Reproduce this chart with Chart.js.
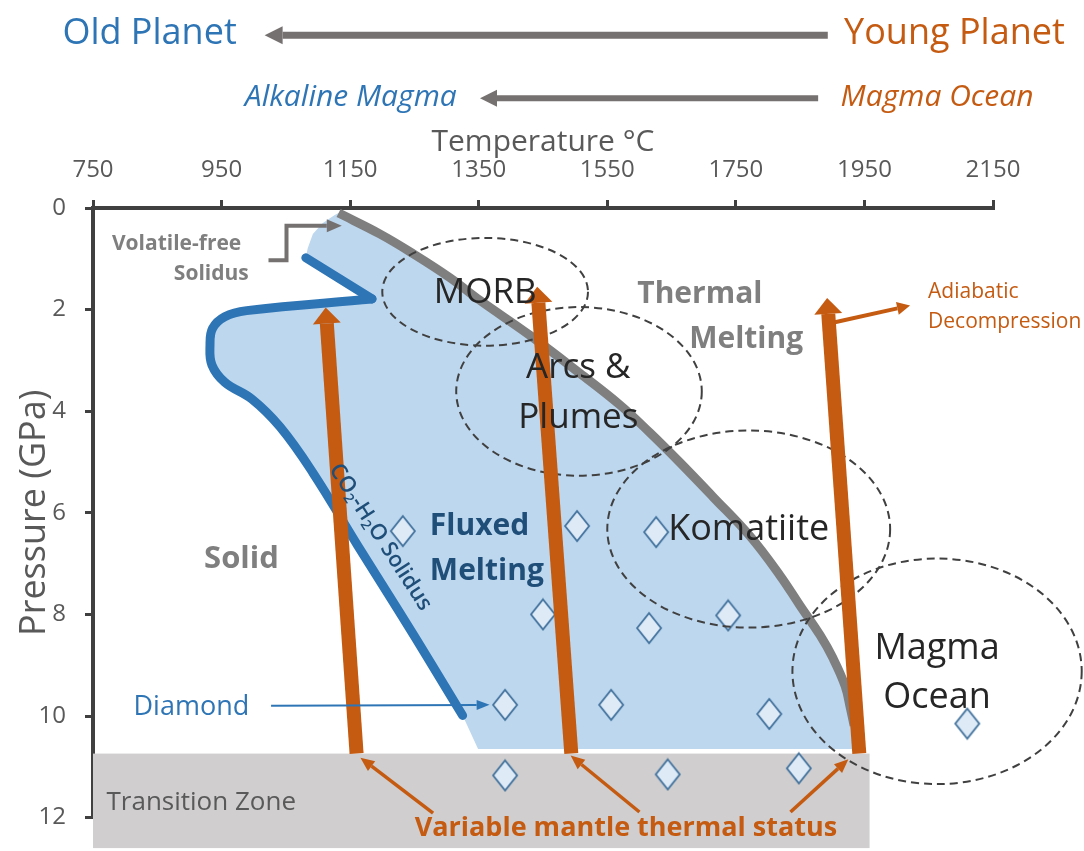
<!DOCTYPE html>
<html>
<head>
<meta charset="utf-8">
<title>Mantle melting regimes</title>
<script src="https://cdn.jsdelivr.net/npm/chart.js@4.4.1/dist/chart.umd.min.js"></script>
<style>
  html, body { margin: 0; padding: 0; background: #fff; }
  canvas { display: block; }
</style>
</head>
<body>
<canvas id="myChart" width="1084" height="851"></canvas>
<script>
const tempTicks = [750, 950, 1150, 1350, 1550, 1750, 1950, 2150];
const pressureTicks = [0, 2, 4, 6, 8, 10, 12];

// volatile-free solidus
const dryT = [1132, 1196, 1248, 1305, 1352, 1430, 1507, 1570, 1616, 1663, 1714, 1772, 1819, 1850, 1881, 1901, 1920, 1928, 1934];
const dryP = [0.10, 0.51, 0.90, 1.37, 1.82, 2.51, 3.25, 3.88, 4.42, 5.01, 5.68, 6.46, 7.24, 7.83, 8.41, 8.86, 9.41, 9.84, 10.19];

// CO2-H2O solidus : short upper limb, then main branch
const limbT = [1081, 1184];
const limbP = [0.98, 1.79];
const fluxT = [1184, 989, 955, 936, 932, 935, 955, 997, 1041, 1092, 1162, 1226, 1277, 1325];
const fluxP = [1.79, 2.02, 2.14, 2.37, 2.70, 3.09, 3.43, 3.76, 4.31, 5.21, 6.65, 7.94, 8.99, 9.99];

// rim of the melting field above the limb, and its flat base
const rimT = [1084, 1092, 1107, 1126];
const rimP = [0.79, 0.51, 0.30, 0.14];
const baseT = [1939, 1349];
const baseP = [10.65, 10.65];

// diamond samples
const sampleT = [1232, 1503, 1626, 1450, 1615, 1738, 1391, 1556, 1802, 2110, 1391, 1644, 1848];
const sampleP = [6.36, 6.26, 6.38, 8.00, 8.27, 8.02, 9.78, 9.78, 9.96, 10.15, 11.17, 11.15, 11.03];

// transition zone
const zoneT = [750, 1958];
const zoneP = [10.74, 12.6];

// mantle adiabats (base -> top)
const adiabatBaseT = [1160, 1494, 1942];
const adiabatBaseP = [10.74, 10.74, 10.74];
const adiabatTopT = [1112, 1441, 1892];
const adiabatTopP = [1.96, 1.55, 1.77];

// melt source fields (dashed ellipses)
const fieldNames = ['MORB', 'Arcs & Plumes', 'Komatiite', 'Magma Ocean'];
const fieldT = [1360, 1506, 1770, 2063];
const fieldP = [1.65, 3.61, 6.32, 9.12];
const fieldRadT = [160, 191, 220, 225];
const fieldRadP = [1.06, 1.66, 1.94, 2.22];

const BLUE = '#2e75b6', DARKBLUE = '#1f4e79', ORANGE = '#c55a11', GREY = '#7f7f7f', ARROWGREY = '#767171';
const F = '"Open Sans", sans-serif';

const notes = [
  {text: 'Old Planet', t: 838, p: -3.43, font: '36px ' + F, color: BLUE},
  {text: 'Young Planet', t: 2090, p: -3.43, font: '36px ' + F, color: ORANGE},
  {text: 'Alkaline Magma', t: 1151, p: -2.18, font: 'italic 30px ' + F, color: BLUE},
  {text: 'Magma Ocean', t: 2063, p: -2.18, font: 'italic 30px ' + F, color: ORANGE},
  {text: 'Volatile-free', t: 880, p: 0.70, font: 'bold 21px ' + F, color: GREY},
  {text: 'Solidus', t: 934, p: 1.29, font: 'bold 21px ' + F, color: GREY},
  {text: 'MORB', t: 1360, p: 1.68, font: '35px ' + F, color: '#262626'},
  {text: 'Arcs &', t: 1505, p: 3.16, font: '35px ' + F, color: '#262626'},
  {text: 'Plumes', t: 1505, p: 4.14, font: '35px ' + F, color: '#262626'},
  {text: 'Komatiite', t: 1770, p: 6.33, font: '36px ' + F, color: '#262626'},
  {text: 'Magma', t: 2063, p: 8.67, font: '36px ' + F, color: '#262626'},
  {text: 'Ocean', t: 2063, p: 9.64, font: '36px ' + F, color: '#262626'},
  {text: 'Thermal', t: 1694, p: 1.71, font: 'bold 30px ' + F, color: GREY},
  {text: 'Melting', t: 1766, p: 2.59, font: 'bold 30px ' + F, color: GREY},
  {text: 'Solid', t: 981, p: 6.91, font: 'bold 31px ' + F, color: GREY},
  {text: 'Fluxed', t: 1274, p: 6.27, font: 'bold 30px ' + F, color: DARKBLUE, align: 'left'},
  {text: 'Melting', t: 1274, p: 7.15, font: 'bold 30px ' + F, color: DARKBLUE, align: 'left'},
  {text: 'Adiabatic', t: 2049, p: 1.66, font: '21px ' + F, color: ORANGE, align: 'left'},
  {text: 'Decompression', t: 2049, p: 2.24, font: '21px ' + F, color: ORANGE, align: 'left'},
  {text: 'Diamond', t: 903, p: 9.82, font: '27px ' + F, color: BLUE},
  {text: 'Transition Zone', t: 771, p: 11.70, font: '26px ' + F, color: '#595959', align: 'left'},
  {text: 'Variable mantle thermal status', t: 1579, p: 12.22, font: 'bold 27px ' + F, color: ORANGE}
];

const pointers = [
  {t: [1023, 1051, 1051, 1137], p: [1.03, 1.03, 0.35, 0.35], w: 4, hw: 13, hl: 15, color: ARROWGREY},
  {t: [1027, 1367], p: [9.80, 9.78], w: 2, hw: 10, hl: 13, color: BLUE},
  {t: [1904, 2021], p: [2.25, 1.92], w: 4, hw: 13, hl: 13, color: ORANGE},
  {t: [1279, 1166], p: [11.91, 10.82], w: 3.5, hw: 12, hl: 14, color: ORANGE},
  {t: [1600, 1493], p: [11.89, 10.78], w: 3.5, hw: 12, hl: 14, color: ORANGE},
  {t: [1835, 1925], p: [11.89, 10.85], w: 3.5, hw: 12, hl: 14, color: ORANGE},
  {t: [1893, 1017], p: [-3.40, -3.40], w: 7, hw: 18, hl: 18, color: ARROWGREY},
  {t: [1878, 1352], p: [-2.16, -2.16], w: 6, hw: 17, hl: 17, color: ARROWGREY}
];

const toXY = (ts, ps) => ts.map((t, i) => ({x: t, y: ps[i]}));

// closed outline of the fluxed/thermal melting field
const polyT = [...fluxT].reverse().concat(limbT[0], rimT, dryT, baseT);
const polyP = [...fluxP].reverse().concat(limbP[0], rimP, dryP, baseP);

// diamond marker
const diamond = document.createElement('canvas');
diamond.width = 28;
diamond.height = 34;
(function() {
  const c = diamond.getContext('2d');
  c.beginPath();
  c.moveTo(14, 2);
  c.lineTo(26, 17);
  c.lineTo(14, 32);
  c.lineTo(2, 17);
  c.closePath();
  c.fillStyle = '#deebf7';
  c.fill();
  c.lineWidth = 1.8;
  c.strokeStyle = '#41719c';
  c.stroke();
})();

function headedPath(ctx, pts, w, headW, headL, color) {
  const n = pts.length;
  const [ex, ey] = pts[n - 1];
  const [qx, qy] = pts[n - 2];
  const a = Math.atan2(ey - qy, ex - qx);
  const bx = ex - headL * Math.cos(a), by = ey - headL * Math.sin(a);
  ctx.save();
  ctx.strokeStyle = color;
  ctx.fillStyle = color;
  ctx.lineWidth = w;
  ctx.lineCap = 'butt';
  ctx.lineJoin = 'miter';
  ctx.beginPath();
  ctx.moveTo(pts[0][0], pts[0][1]);
  for (let i = 1; i < n - 1; i++) ctx.lineTo(pts[i][0], pts[i][1]);
  ctx.lineTo(bx, by);
  ctx.stroke();
  ctx.beginPath();
  ctx.moveTo(ex, ey);
  ctx.lineTo(bx + headW / 2 * Math.sin(a), by - headW / 2 * Math.cos(a));
  ctx.lineTo(bx - headW / 2 * Math.sin(a), by + headW / 2 * Math.cos(a));
  ctx.closePath();
  ctx.fill();
  ctx.restore();
}

const overlay = {
  id: 'overlay',
  beforeDatasetsDraw(chart) {
    const ctx = chart.ctx, xs = chart.scales.x, ys = chart.scales.y;
    const x0 = xs.getPixelForValue(zoneT[0]), x1 = xs.getPixelForValue(zoneT[1]);
    const y0 = ys.getPixelForValue(zoneP[0]), y1 = ys.getPixelForValue(zoneP[1]);
    ctx.save();
    ctx.fillStyle = '#d0cece';
    ctx.fillRect(x0, y0, x1 - x0, y1 - y0);
    ctx.restore();
  },
  afterDatasetsDraw(chart) {
    const ctx = chart.ctx, xs = chart.scales.x, ys = chart.scales.y;
    const X = t => xs.getPixelForValue(t), Y = p => ys.getPixelForValue(p);

    // dashed source fields
    ctx.save();
    ctx.strokeStyle = '#404040';
    ctx.lineWidth = 2;
    ctx.setLineDash([8, 5]);
    fieldNames.forEach((name, i) => {
      const cx = X(fieldT[i]), cy = Y(fieldP[i]);
      const rx = Math.abs(X(fieldT[i] + fieldRadT[i]) - cx);
      const ry = Math.abs(Y(fieldP[i] + fieldRadP[i]) - cy);
      ctx.beginPath();
      ctx.ellipse(cx, cy, rx, ry, 0, 0, Math.PI * 2);
      ctx.stroke();
    });
    ctx.restore();

    // adiabats
    adiabatBaseT.forEach((t, i) => {
      headedPath(ctx, [[X(t), Y(adiabatBaseP[i])], [X(adiabatTopT[i]), Y(adiabatTopP[i])]], 14, 28, 16, ORANGE);
    });

    pointers.forEach(a => {
      headedPath(ctx, a.t.map((t, i) => [X(t), Y(a.p[i])]), a.w, a.hw, a.hl, a.color);
    });

    // labels
    ctx.save();
    ctx.textBaseline = 'middle';
    notes.forEach(n => {
      ctx.font = n.font;
      ctx.fillStyle = n.color;
      ctx.textAlign = n.align || 'center';
      ctx.fillText(n.text, X(n.t), Y(n.p));
    });
    ctx.restore();

    // rotated CO2-H2O Solidus label
    const parts = [['CO', false], ['2', true], ['-H', false], ['2', true], ['O Solidus', false]];
    const big = '600 22px ' + F, small = '600 14px ' + F;
    ctx.save();
    ctx.translate(X(1197), Y(6.48));
    ctx.rotate(57 * Math.PI / 180);
    ctx.fillStyle = DARKBLUE;
    ctx.textBaseline = 'middle';
    ctx.textAlign = 'left';
    let w = 0;
    parts.forEach(([s, sub]) => { ctx.font = sub ? small : big; w += ctx.measureText(s).width; });
    let x = -w / 2;
    parts.forEach(([s, sub]) => {
      ctx.font = sub ? small : big;
      ctx.fillText(s, x, sub ? 6 : 0);
      x += ctx.measureText(s).width;
    });
    ctx.restore();
  }
};

function draw() {
  Chart.defaults.font.family = F;
  const lineStyle = {showLine: true, pointRadius: 0, borderCapStyle: 'round', borderJoinStyle: 'round'};
  new Chart(document.getElementById('myChart'), {
    type: 'scatter',
    data: {
      datasets: [
        {label: 'samples', data: toXY(sampleT, sampleP), pointStyle: diamond, pointRadius: 3, order: 1},
        Object.assign({label: 'CO2-H2O solidus', data: toXY(fluxT, fluxP), borderColor: BLUE, borderWidth: 9, tension: 0.4, order: 2}, lineStyle),
        Object.assign({label: 'CO2-H2O solidus limb', data: toXY(limbT, limbP), borderColor: BLUE, borderWidth: 9, tension: 0, order: 2}, lineStyle),
        Object.assign({label: 'Volatile-free solidus', data: toXY(dryT, dryP), borderColor: GREY, borderWidth: 9, tension: 0.4, order: 3}, lineStyle, {borderCapStyle: 'butt'}),
        {label: 'melting field', data: toXY(polyT, polyP), showLine: true, fill: 'shape', backgroundColor: '#bdd7ee',
         borderColor: 'transparent', borderWidth: 0, pointRadius: 0, tension: 0, order: 4}
      ]
    },
    options: {
      responsive: false,
      devicePixelRatio: 1,
      animation: false,
      events: [],
      layout: {padding: {left: 0, right: 91, top: 0, bottom: 30}},
      plugins: {legend: {display: false}, tooltip: {enabled: false}},
      scales: {
        x: {
          type: 'linear',
          position: 'top',
          min: 750,
          max: 2150,
          afterBuildTicks: s => { s.ticks = tempTicks.map(v => ({value: v})); },
          afterFit: s => { s.height = 208; },
          ticks: {color: '#595959', font: {size: 24}, padding: 15, callback: v => String(v)},
          grid: {display: true, drawOnChartArea: false, tickLength: 8, tickColor: '#404040', tickWidth: 3, lineWidth: 3, color: '#404040'},
          border: {display: true, color: '#404040', width: 4},
          title: {display: true, text: 'Temperature °C', color: '#595959', font: {size: 30}, padding: {top: 124, bottom: 0}}
        },
        y: {
          type: 'linear',
          reverse: true,
          min: 0,
          max: 12,
          z: 1,
          afterBuildTicks: s => { s.ticks = pressureTicks.map(v => ({value: v})); },
          afterFit: s => { s.width = 93; },
          ticks: {color: '#595959', font: {size: 24}, padding: 19, callback: v => String(v)},
          grid: {display: true, drawOnChartArea: false, tickLength: 8, tickColor: '#404040', tickWidth: 3, lineWidth: 3, color: '#404040'},
          border: {display: true, color: '#404040', width: 4},
          title: {display: true, text: 'Pressure (GPa)', color: '#595959', font: {size: 36}, padding: {top: 13, bottom: 0}}
        }
      }
    },
    plugins: [overlay]
  });
}

Promise.all(['24px "Open Sans"', 'bold 24px "Open Sans"', 'italic 24px "Open Sans"', '600 24px "Open Sans"']
  .map(f => document.fonts.load(f))).then(draw, draw);
</script>
</body>
</html>
